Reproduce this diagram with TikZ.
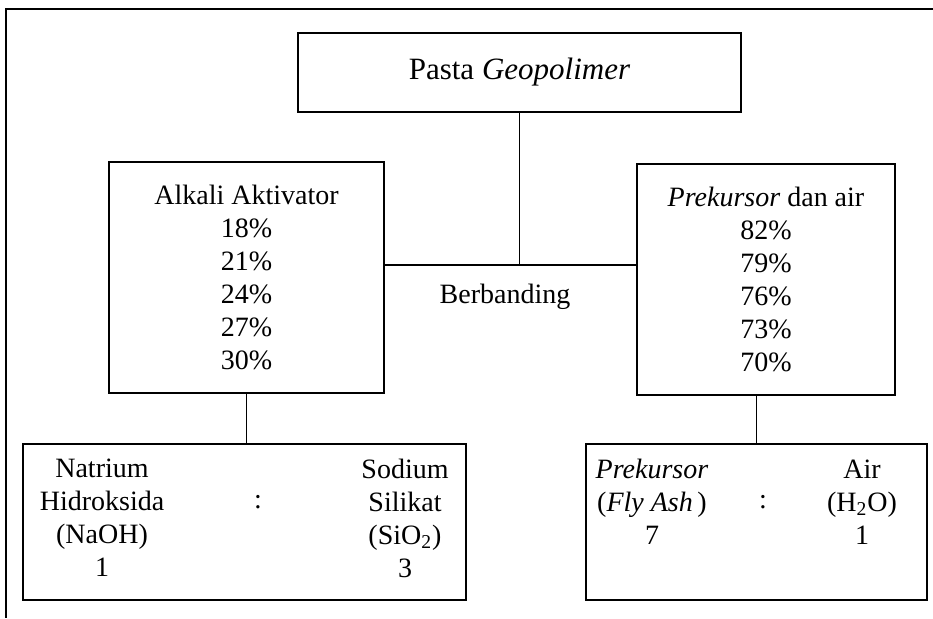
\documentclass[tikz,border=0pt]{standalone}
\usepackage{fontspec}
\setmainfont{Liberation Serif}
\usepackage{tikz}
\usetikzlibrary{arrows}

\begin{document}
\begin{tikzpicture}[x=0.5pt, y=-0.5pt, inner sep=0pt]

    \tikzstyle{kotak}=[rectangle, draw=black, thick, text=black] \tikzstyle{teks}=[align=center, font=\fontsize{14}{16.5}\selectfont] \tikzstyle{garis}=[draw=black, thick]

    \useasboundingbox (0,0) rectangle (933,618);
    \draw[garis] (933,9) -- (6,9) -- (6,618);

    \node[kotak, minimum width=221.5pt, minimum height=39.5pt, font=\fontsize{15.5}{18}\selectfont] (pasta) at (519.5,72.5) {Pasta \textit{Geopolimer}};
    \node[kotak, teks, minimum width=137.5pt, minimum height=115.5pt] (alkali) at (246.5,277.5) {Alkali Aktivator\\18\%\\21\%\\24\%\\27\%\\30\%};
    \node[kotak, teks, minimum width=129pt, minimum height=115.5pt] (prek) at (766,279.5) {\textit{Prekursor} dan air\\82\%\\79\%\\76\%\\73\%\\70\%};
    \node[teks] (banding) at (505,297) {Berbanding};

    \node[kotak, minimum width=221.5pt, minimum height=78pt] (rasio1) at (244.5,522) {};
    \node[teks] (naoh) at (102,518) {Natrium\\Hidroksida\\(NaOH)\\1};
    \node[teks] (titik1) at (258,502) {:};
    \node[teks] (sio) at (405,518) {Sodium\\Silikat\\(SiO\textsubscript{2})\\3};

    \node[kotak, minimum width=170.5pt, minimum height=78pt] (rasio2) at (756.5,522) {};
    \node[teks] (fly) at (652,502) {\textit{Prekursor}\\(\textit{Fly Ash}\,)\\7};
    \node[teks] (titik2) at (763,502) {:};
    \node[teks] (hdo) at (862,502) {Air\\(H\textsubscript{2}O)\\1};

    \coordinate (temu) at (518,265);
    \draw[garis] (pasta.south) -- (pasta.south |- temu);
    \draw[garis] (alkali.east |- temu) -- (prek.west |- temu);
    \draw[garis] (alkali.south) -- (alkali.south |- rasio1.north);
    \draw[garis] (rasio2.north) -- (rasio2.north |- prek.south);
  \end{tikzpicture}
\end{document}
